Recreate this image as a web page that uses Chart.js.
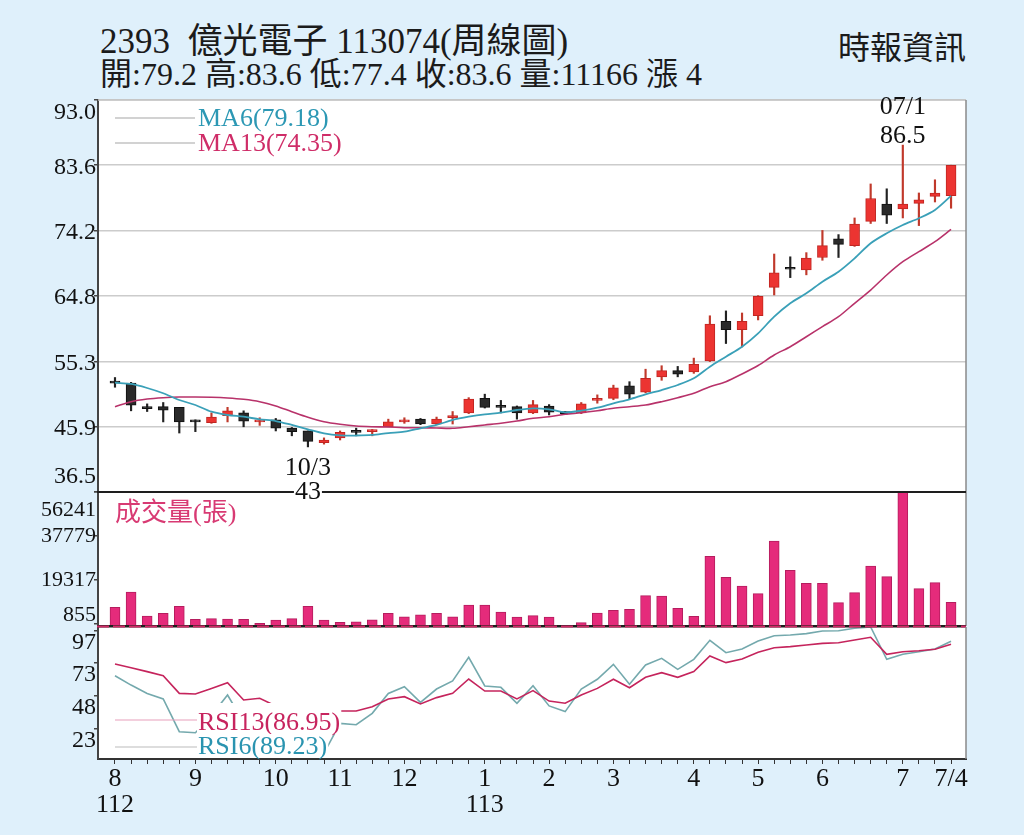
<!DOCTYPE html>
<html>
<head>
<meta charset="utf-8">
<script src="https://cdn.jsdelivr.net/npm/chart.js@4.4.1/dist/chart.umd.min.js"></script>
<style>
  html, body { margin: 0; padding: 0; }
  body {
    width: 1024px; height: 835px; overflow: hidden; position: relative;
    background: #dff0fb; color: #1b1b1b;
    font-family: "Liberation Serif", "Noto Sans CJK TC", serif;
  }
  .hd { position: absolute; white-space: pre; line-height: 1; }
  canvas { position: absolute; left: 0; }
</style>
</head>
<body>
<div class="hd" style="left:100px; top:24px; font-size:35px;">2393  億光電子 113074(周線圖)</div>
<div class="hd" style="left:100px; top:58px; font-size:32px;">開:79.2 高:83.6 低:77.4 收:83.6 量:11166 漲 4</div>
<div class="hd" style="left:838px; top:32px; font-size:32px;">時報資訊</div>

<canvas id="vol-chart" width="1024" height="150" style="top:480px; z-index:1"></canvas>
<canvas id="rsi-chart" width="1024" height="220" style="top:615px; z-index:2"></canvas>
<canvas id="price-chart" width="1024" height="420" style="top:90px; z-index:3"></canvas>

<script>
// weekly bars, Aug 2023 (112) .. Jul 2024 (113)
const opens  = [52.5,52.2,48.8,48.8,48.7,46.9,46.5,47.5,47.9,46.6,46.9,45.7,45.3,43.6,44.3,45.3,45.2,45.9,46.6,47.0,
                46.3,47.2,47.9,50.0,48.9,48.8,47.9,48.9,48.1,47.9,49.7,50.0,51.8,50.9,53.1,54.0,53.8,55.4,61.1,59.9,
                61.9,66.0,68.7,68.5,70.3,73.0,72.0,75.5,78.0,77.3,78.1,79.1,79.2];
const highs  = [53.0,52.3,49.2,49.4,48.7,46.9,47.9,48.7,48.2,47.2,47.1,45.8,45.3,44.3,45.3,45.7,45.5,47.0,47.2,47.1,
                47.3,48.1,50.1,50.6,49.7,48.9,49.7,49.1,48.1,49.4,50.5,51.9,52.4,54.2,54.7,54.6,55.8,61.9,62.6,62.3,
                64.8,70.8,70.4,71.0,74.2,73.6,76.0,80.9,80.2,86.5,79.6,81.5,83.6];
const lows   = [51.6,48.2,48.1,46.6,45.0,45.2,46.4,46.6,45.9,46.1,45.3,44.6,43.0,43.4,44.0,44.6,44.6,45.9,46.4,46.2,
                46.2,46.3,47.8,48.6,47.9,47.0,47.8,47.6,47.7,47.8,49.3,49.8,49.9,50.8,52.6,53.1,53.6,55.3,57.9,57.4,
                61.3,64.9,67.4,67.8,69.9,70.3,71.9,75.2,75.2,76.0,74.9,78.3,77.4];
const closes = [52.2,49.0,48.5,48.3,46.6,46.6,47.3,48.2,46.7,46.9,45.7,45.2,43.8,44.0,45.1,45.1,45.4,46.6,46.9,46.3,
                47.0,47.5,49.9,48.7,48.7,47.9,49.1,48.0,47.8,49.2,50.0,51.5,50.6,52.9,54.0,53.5,54.9,60.7,59.9,61.1,
                64.7,68.1,68.6,70.2,72.0,72.2,75.1,78.8,76.4,78.0,78.6,79.6,83.6];

const ma6  = [52.25,52.07,51.49,50.73,49.76,49.04,48.07,47.60,47.35,46.98,46.73,46.16,45.54,44.96,44.67,44.64,44.72,45.00,45.19,45.68,
              46.16,46.88,47.35,47.70,47.93,48.32,48.56,48.42,47.99,48.22,48.65,49.28,49.86,50.58,51.20,51.92,52.89,54.56,56.00,57.44,
              59.37,61.77,63.70,65.14,66.81,68.25,70.18,72.35,73.79,74.98,75.95,77.15,79.18];
const ma13 = [48.79,49.52,49.90,50.09,50.19,50.19,50.15,50.05,49.86,49.52,48.90,48.07,47.27,46.63,46.26,46.01,45.91,45.87,45.77,45.77,
              45.72,45.68,45.91,46.16,46.40,46.73,47.12,47.35,47.70,47.93,48.22,48.56,48.79,49.04,49.52,50.09,50.73,51.68,52.40,53.51,
              54.73,56.25,57.44,58.88,60.33,61.77,63.70,65.61,67.78,69.69,71.14,72.58,74.35];

const volumes = [7850,14270,4200,5330,8270,2800,3070,2940,2800,1130,2520,3070,8270,2520,1550,1800,2640,5330,3900,4740,
                 5330,3900,8810,8810,5880,3700,4330,3780,250,1400,5460,6580,7000,12730,12590,7410,4060,29240,20420,16790,
                 13570,35670,23360,17910,17910,9790,13990,25180,20700,56241,15670,18190,9930];

const rsi13 = [72.0,69.2,66.2,63.1,49.7,49.2,53.5,57.8,44.7,46.0,40.2,38.0,33.0,35.0,36.4,36.4,39.6,45.5,47.2,41.7,
               46.5,49.7,60.6,51.5,51.5,45.5,51.8,43.9,42.2,48.5,53.5,60.4,54.0,61.9,65.4,61.9,66.2,78.0,73.0,75.8,
               80.8,84.3,85.1,86.4,87.6,88.1,90.2,92.2,79.3,81.3,82.0,83.1,86.95];
const rsi6  = [63.1,56.0,49.7,45.5,20.7,19.9,33.0,48.5,28.0,30.0,22.0,15.0,8.0,4.5,27.0,26.0,34.6,49.7,54.8,42.9,
               53.0,59.1,77.0,55.3,54.3,42.2,55.5,40.2,35.9,53.0,60.4,71.7,56.6,71.2,76.3,67.9,75.5,89.9,80.5,83.3,
               89.4,93.4,93.9,95.0,97.0,97.2,99.0,100.0,75.5,79.3,81.3,83.3,89.23];

const priceTicks  = [36.5, 45.9, 55.3, 64.8, 74.2, 83.6, 93.0];
const volumeTicks = [855, 19317, 37779, 56241];
const rsiTicks    = [23, 48, 73, 97];
const monthTickIdx  = [0, 5, 10, 14, 18, 23, 27, 31, 36, 40, 44, 49, 52];
const monthTickText = ['8', '9', '10', '11', '12', '1', '2', '3', '4', '5', '6', '7', '7/4'];
const yearTickIdx   = [0, 23];
const yearTickText  = ['112', '113'];
const troughDate = '10/3';
const peakDate = '07/1';

const SERIF = '"Liberation Serif", "Noto Sans CJK TC", serif';
const X_MIN = -1.057, X_MAX = 52.93;
const isUp = closes.map((c, i) => c >= opens[i]);

function hline(ctx, x1, x2, y, color, w, dash) {
  ctx.save();
  ctx.strokeStyle = color; ctx.lineWidth = w;
  if (dash) ctx.setLineDash(dash);
  ctx.beginPath(); ctx.moveTo(x1, y); ctx.lineTo(x2, y); ctx.stroke();
  ctx.restore();
}
function vline(ctx, x, y1, y2, color, w) {
  ctx.save();
  ctx.strokeStyle = color; ctx.lineWidth = w;
  ctx.beginPath(); ctx.moveTo(x, y1); ctx.lineTo(x, y2); ctx.stroke();
  ctx.restore();
}
// bg = [colour, pixels above baseline, pixels below baseline]
function label(ctx, str, x, y, size, color, align, bg) {
  ctx.save();
  ctx.font = size + 'px ' + SERIF;
  ctx.textAlign = align || 'left';
  ctx.textBaseline = 'alphabetic';
  if (bg) {
    const w = ctx.measureText(str).width;
    const x0 = align === 'center' ? x - w / 2 : x;
    ctx.fillStyle = bg[0];
    ctx.fillRect(x0 - 1, y - bg[1], w + 2, bg[1] + bg[2]);
  }
  ctx.fillStyle = color;
  ctx.fillText(str, x, y);
  ctx.restore();
}
function yLabels(chart, values, fmt, size, shift, insetTop, insetBottom) {
  const a = chart.chartArea, s = chart.scales.y, ctx = chart.ctx;
  ctx.save();
  ctx.font = size + 'px ' + SERIF;
  ctx.fillStyle = '#111';
  ctx.textAlign = 'right';
  ctx.textBaseline = 'middle';
  values.forEach(v => {
    let y = s.getPixelForValue(v) + shift;
    y = Math.min(Math.max(y, a.top + insetTop), a.bottom - insetBottom);
    ctx.fillText(fmt(v), a.left - 2, y);
  });
  ctx.restore();
}
const whitePlot = {
  id: 'whitePlot',
  beforeDraw(chart) {
    const a = chart.chartArea, ctx = chart.ctx;
    ctx.save();
    ctx.fillStyle = '#ffffff';
    ctx.fillRect(a.left, a.top, a.right - a.left, a.bottom - a.top);
    ctx.restore();
  }
};
const fmtNum = v => String(+v.toFixed(1));

function yScale(min, max, ticks, gridOn) {
  return {
    type: 'linear', min: min, max: max,
    afterBuildTicks: s => { s.ticks = ticks.map(v => ({ value: v })); },
    afterFit: s => { s.width = 0; },
    ticks: { display: false },
    grid: { drawOnChartArea: gridOn, color: '#cccccc', lineWidth: 1.5, drawTicks: true, tickLength: 4, tickColor: '#444' },
    border: { display: true, color: '#444', width: 2 }
  };
}
const hiddenX = { type: 'linear', min: X_MIN, max: X_MAX, display: false, offset: false, grid: { offset: false } };
const common = {
  responsive: false,
  animation: false,
  events: [],
  plugins: { legend: { display: false }, tooltip: { enabled: false } }
};

// ---------- price panel ----------
new Chart(document.getElementById('price-chart'), {
  type: 'bar',
  data: {
    datasets: [
      { type: 'line', label: 'MA6', data: ma6.map((v, i) => ({ x: i, y: v })),
        borderColor: '#3aa0b8', borderWidth: 1.8, pointRadius: 0, tension: 0.3, order: 0 },
      { type: 'line', label: 'MA13', data: ma13.map((v, i) => ({ x: i, y: v })),
        borderColor: '#b8326a', borderWidth: 1.6, pointRadius: 0, tension: 0.3, order: 0 },
      { label: 'body', data: opens.map((o, i) => ({ x: i, y: [o, closes[i]] })),
        backgroundColor: isUp.map(u => u ? '#ec3431' : '#2a2a2a'),
        borderColor: isUp.map(u => u ? '#c02622' : '#111111'),
        borderWidth: 1, borderSkipped: false, barThickness: 10, minBarLength: 2, grouped: false, order: 1 },
      { label: 'wick', data: lows.map((l, i) => ({ x: i, y: [l, highs[i]] })),
        backgroundColor: isUp.map(u => u ? '#c0392b' : '#222222'),
        barThickness: 1.5, grouped: false, order: 2 }
    ]
  },
  options: Object.assign({}, common, {
    layout: { padding: { left: 98, right: 58, top: 10, bottom: 18 } },
    scales: { x: hiddenX, y: yScale(36.5, 93.0, priceTicks, true) }
  }),
  plugins: [whitePlot, {
    id: 'priceDeco',
    afterDraw(chart) {
      const a = chart.chartArea, ctx = chart.ctx, xs = chart.scales.x, ys = chart.scales.y;
      hline(ctx, a.left, a.right, a.top, '#c4c4c4', 1.5);
      vline(ctx, a.right, a.top, a.bottom, '#8a8a8a', 1.5);
      hline(ctx, a.left - 1, a.right, a.bottom, '#1e1e1e', 2);

      hline(ctx, a.left + 17, a.left + 97, a.top + 18, '#a5a5a5', 1);
      label(ctx, 'MA6(' + ma6[ma6.length - 1].toFixed(2) + ')', a.left + 100, a.top + 26, 26, '#2c98b4');
      hline(ctx, a.left + 17, a.left + 97, a.top + 43, '#a5a5a5', 1);
      label(ctx, 'MA13(' + ma13[ma13.length - 1].toFixed(2) + ')', a.left + 100, a.top + 51, 26, '#cf2d68');

      const hi = highs.indexOf(Math.max(...highs));
      const hx = xs.getPixelForValue(hi), hy = ys.getPixelForValue(highs[hi]);
      label(ctx, peakDate, hx, hy - 31, 26, '#111', 'center');
      label(ctx, fmtNum(highs[hi]), hx, hy - 2, 26, '#111', 'center');

      const lo = lows.indexOf(Math.min(...lows));
      const lx = xs.getPixelForValue(lo), ly = ys.getPixelForValue(lows[lo]);
      label(ctx, troughDate, lx, ly + 28, 26, '#111', 'center', ['#ffffff', 21, 4]);
      label(ctx, fmtNum(lows[lo]), lx, ly + 52, 26, '#111', 'center', ['#ffffff', 20, 3]);

      yLabels(chart, priceTicks, v => v.toFixed(1), 24, 2, 13, 15);
    }
  }]
});

// ---------- volume panel ----------
new Chart(document.getElementById('vol-chart'), {
  type: 'bar',
  data: {
    datasets: [{
      label: '成交量', data: volumes.map((v, i) => ({ x: i, y: v })),
      backgroundColor: '#e52b7b', borderColor: '#b51d5e', borderWidth: 1, barThickness: 10
    }]
  },
  options: Object.assign({}, common, {
    layout: { padding: { left: 98, right: 58, top: 12, bottom: 4 } },
    scales: { x: hiddenX, y: yScale(0, 56241, volumeTicks, false) }
  }),
  plugins: [whitePlot, {
    id: 'volDeco',
    afterDraw(chart) {
      const a = chart.chartArea, ctx = chart.ctx;
      hline(ctx, a.left - 1, a.right, a.top, '#1e1e1e', 2);
      vline(ctx, a.right, a.top, a.bottom, '#8a8a8a', 1.5);
      hline(ctx, a.left - 1, a.right, a.bottom, '#1e1e1e', 2);
      label(ctx, '成交量(張)', a.left + 17, a.top + 29, 26, '#d83a73');
      yLabels(chart, volumeTicks, v => String(v), 22, 0, 18, 11);
    }
  }]
});

// ---------- RSI panel ----------
new Chart(document.getElementById('rsi-chart'), {
  type: 'line',
  data: {
    datasets: [
      { label: 'RSI13', data: rsi13.map((v, i) => ({ x: i, y: v })),
        borderColor: '#c5245c', borderWidth: 1.6, pointRadius: 0, tension: 0, order: 0 },
      { label: 'RSI6', data: rsi6.map((v, i) => ({ x: i, y: v })),
        borderColor: '#74a9ad', borderWidth: 1.6, pointRadius: 0, tension: 0, order: 1 }
    ]
  },
  options: Object.assign({}, common, {
    layout: { padding: { left: 98, right: 58, top: 12, bottom: 6 } },
    scales: {
      x: {
        type: 'linear', min: X_MIN, max: X_MAX, offset: false,
        afterBuildTicks: s => { s.ticks = volumes.map((v, i) => ({ value: i })); },
        afterFit: s => { s.height = 70; },
        ticks: {
          autoSkip: false, maxRotation: 0, minRotation: 0, padding: 2, color: '#111',
          font: { family: SERIF, size: 26, lineHeight: 1 },
          callback: v => {
            const k = monthTickIdx.indexOf(v);
            if (k < 0) return '';
            const yk = yearTickIdx.indexOf(v);
            return yk < 0 ? monthTickText[k] : [monthTickText[k], yearTickText[yk]];
          }
        },
        grid: { drawOnChartArea: false, drawTicks: true, tickLength: 5, tickColor: '#333', offset: false },
        border: { display: true, color: '#333', width: 2 }
      },
      y: yScale(0, 100, rsiTicks, false)
    }
  }),
  plugins: [whitePlot, {
    id: 'rsiDeco',
    afterDraw(chart) {
      const a = chart.chartArea, ctx = chart.ctx;
      hline(ctx, a.left - 1, a.right, a.top - 0.5, '#1e1e1e', 2);
      hline(ctx, a.left - 1, a.right, a.top - 0.5, '#d02a66', 2, [12, 4]);
      vline(ctx, a.right, a.top, a.bottom, '#8a8a8a', 1.5);

      const y13 = a.top + 103, y6 = a.top + 127;
      hline(ctx, a.left + 17, a.left + 100, a.top + 93, '#e8a0bb', 1.2);
      label(ctx, 'RSI13(' + rsi13[rsi13.length - 1].toFixed(2) + ')', a.left + 100, y13, 26, '#c7245e', 'left', ['#ffffff', 27, 4]);
      hline(ctx, a.left + 17, a.left + 100, a.top + 120, '#bbbbbb', 1.2);
      label(ctx, 'RSI6(' + rsi6[rsi6.length - 1].toFixed(2) + ')', a.left + 100, y6, 26, '#2a94b0', 'left', ['#ffffff', 20, a.bottom - y6 - 1]);

      yLabels(chart, rsiTicks, v => String(v), 24, 12, 13, 13);
    }
  }]
});
</script>
</body>
</html>
